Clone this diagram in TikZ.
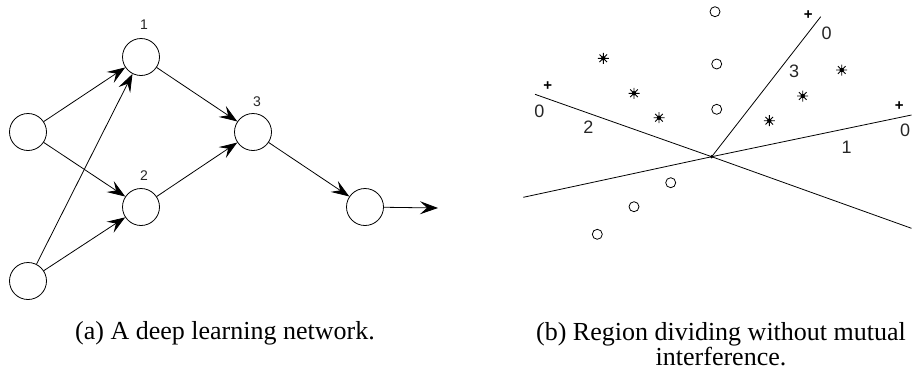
\documentclass[tikz,border=0pt]{standalone}
\usepackage{fontspec}
\setmainfont{Liberation Serif}
\newfontfamily\labfont{Liberation Sans}
\usetikzlibrary{arrows.meta}
\begin{document}
\begin{tikzpicture}[x=1pt,y=-1pt,
  neuron/.style={circle,draw,line width=0.8pt,minimum size=37pt,inner sep=0pt},
  myhead/.tip={Stealth[length=18pt,width=13pt,inset=7pt]},
  conn/.style={line width=0.8pt,-myhead},
  numlab/.style={font=\labfont\fontsize{14}{14}\selectfont,inner sep=0pt,text=black!85},
  reglab/.style={font=\labfont\fontsize{18}{18}\selectfont,inner sep=0pt,text=black!85},
  pluslab/.style={font=\labfont\bfseries\fontsize{15}{15}\selectfont,inner sep=0pt},
  divline/.style={line width=0.8pt},
  hollow/.style={circle,draw,line width=0.8pt,minimum size=10pt,inner sep=0pt},
  starm/.style={minimum size=11pt,inner sep=0pt,
    path picture={
      \draw[line width=0.9pt] (path picture bounding box.north) -- (path picture bounding box.south)
        (path picture bounding box.west) -- (path picture bounding box.east)
        ([shift={(-3.8pt,-3.8pt)}]path picture bounding box.center) -- ([shift={(3.8pt,3.8pt)}]path picture bounding box.center)
        ([shift={(-3.8pt,3.8pt)}]path picture bounding box.center) -- ([shift={(3.8pt,-3.8pt)}]path picture bounding box.center);
      \fill (path picture bounding box.center) circle (2.2pt);}},
  caption/.style={font=\fontsize{26}{25}\selectfont,inner sep=0pt,align=center}
]
\useasboundingbox (0,0) rectangle (912,378);

% ---- (a) network ----
\node[neuron] (in1) at (28,132) {};
\node[neuron] (in2) at (28,281) {};
\node[neuron] (h1) at (141,57) {};
\node[neuron] (h2) at (141,207) {};
\node[neuron] (h3) at (253,132) {};
\node[neuron] (out) at (365,207) {};
\coordinate (end) at (438,208);

\node[numlab] (l1) at (144,25) {1};
\node[numlab] (l2) at (144,176) {2};
\node[numlab] (l3) at (257,102) {3};

\draw[conn] (in1) -- (h1);
\draw[conn] (in1) -- (h2);
\draw[conn] (in2) -- (h1);
\draw[conn] (in2) -- (h2);
\draw[conn] (h1) -- (h3);
\draw[conn] (h2) -- (h3);
\draw[conn] (h3) -- (out);
\draw[conn] (out) -- (end);

% ---- (b) region dividing ----
\coordinate (c) at (711.7,156.7);
\coordinate (l2a) at (535,94.3);
\coordinate (l2b) at (911.5,228.3);
\coordinate (l1a) at (523.3,197.3);
\coordinate (l1b) at (911.5,115);
\coordinate (l3a) at (820.7,16.7);

\draw[divline] (l2a) -- (c) -- (l2b);
\draw[divline] (l1a) -- (c) -- (l1b);
\draw[divline] (c) -- (l3a);
\fill (c) circle (1.8pt);

\node[pluslab] (p2) at (547.7,86.5) {+};
\node[reglab] (z2) at (539.3,111.7) {0};
\node[reglab] (n2) at (588.3,127) {2};
\node[pluslab] (p3) at (808.3,15) {+};
\node[reglab] (z3) at (826.7,33.3) {0};
\node[reglab] (n3) at (794,71) {3};
\node[pluslab] (p1) at (899.3,106.5) {+};
\node[reglab] (z1) at (905,130) {0};
\node[reglab] (n1) at (846.7,147) {1};

\node[hollow] (o1) at (715,11.7) {};
\node[hollow] (o2) at (716.7,64) {};
\node[hollow] (o3) at (716.7,109.3) {};
\node[hollow] (o4) at (670.7,182.7) {};
\node[hollow] (o5) at (634,206.7) {};
\node[hollow] (o6) at (597.3,234.3) {};

\node[starm] (s1) at (603.3,58.3) {};
\node[starm] (s2) at (634,93.3) {};
\node[starm] (s3) at (659,117.7) {};
\node[starm] (s4) at (841.7,70) {};
\node[starm] (s5) at (802.7,96) {};
\node[starm] (s6) at (769.3,120.7) {};

% ---- captions ----
\node[caption] (capa) at (225,333) {(a) A deep learning network.};
\node[caption,anchor=north] (capb) at (721,322) {(b) Region dividing without mutual\\interference.};
\end{tikzpicture}
\end{document}
